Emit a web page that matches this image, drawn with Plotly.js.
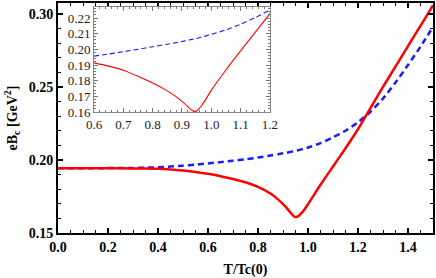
<!DOCTYPE html>
<html><head><meta charset="utf-8">
<script src="https://cdn.plot.ly/plotly-3.0.1.min.js"></script>
<style>html,body{margin:0;padding:0;background:#fff}</style>
</head><body><div id="plot" style="width:436px;height:278px"></div>
<script>
// main panel
var T = [0, 0.1, 0.2, 0.3, 0.35, 0.4, 0.45, 0.5, 0.55, 0.6, 0.65, 0.7, 0.75, 0.8, 0.85, 0.88, 0.91, 0.93, 0.945, 0.96, 0.98, 1.0, 1.05, 1.1, 1.15, 1.2, 1.25, 1.3, 1.35, 1.4, 1.45, 1.5];
var eBcSolid = [0.1943, 0.1943, 0.1943, 0.1942, 0.1941, 0.1939, 0.1935, 0.1928, 0.1918, 0.1905, 0.1889, 0.1870, 0.1847, 0.1815, 0.1770, 0.1730, 0.1680, 0.1640, 0.1612, 0.1614, 0.1648, 0.1697, 0.1830, 0.1955, 0.2080, 0.2210, 0.2355, 0.2500, 0.2639, 0.2779, 0.2918, 0.3057];
var eBcDashed = [0.1943, 0.1943, 0.1944, 0.1945, 0.1947, 0.1950, 0.1955, 0.1961, 0.1968, 0.1976, 0.1985, 0.1995, 0.2005, 0.2016, 0.2030, 0.2039, 0.2048, 0.2055, 0.2060, 0.2066, 0.2075, 0.2085, 0.2115, 0.2155, 0.2200, 0.2258, 0.2330, 0.2420, 0.2530, 0.2650, 0.2775, 0.2910];
// inset panel
var Tin = [0.6, 0.65, 0.7, 0.75, 0.8, 0.85, 0.88, 0.91, 0.93, 0.94, 0.95, 0.97, 1.0, 1.05, 1.1, 1.15, 1.2];
var eBcSolidIn = [0.1914, 0.1893, 0.1867, 0.1828, 0.1785, 0.1735, 0.1698, 0.1652, 0.1617, 0.1605, 0.1607, 0.1648, 0.1738, 0.1868, 0.1990, 0.2108, 0.2228];
var eBcDashedIn = [0.1957, 0.1970, 0.1985, 0.2000, 0.2017, 0.2033, 0.2043, 0.2054, 0.2062, 0.2066, 0.2070, 0.2080, 0.2095, 0.2125, 0.2160, 0.2203, 0.2250];

var serif = "Liberation Serif";
var traces = [
  {x: T, y: eBcDashed, mode: 'lines', line: {color: '#1a1aff', width: 2.5, dash: '6px,4px', shape: 'spline', smoothing: 0.6}, xaxis: 'x', yaxis: 'y', hoverinfo: 'skip'},
  {x: T, y: eBcSolid, mode: 'lines', line: {color: '#ff0000', width: 2.5, shape: 'spline', smoothing: 0.6}, xaxis: 'x', yaxis: 'y', hoverinfo: 'skip'},
  {x: Tin, y: eBcDashedIn, mode: 'lines', line: {color: '#1a1aff', width: 1.1, dash: '5px,3px', shape: 'spline', smoothing: 0.6}, xaxis: 'x2', yaxis: 'y2', hoverinfo: 'skip'},
  {x: Tin, y: eBcSolidIn, mode: 'lines', line: {color: '#ff0000', width: 1.1, shape: 'spline', smoothing: 0.6}, xaxis: 'x2', yaxis: 'y2', hoverinfo: 'skip'}
];
var layout = {
  width: 436, height: 278,
  margin: {l: 58, r: 3, t: 3, b: 45},
  showlegend: false,
  paper_bgcolor: '#fff', plot_bgcolor: '#fff',
  font: {family: serif, color: '#000'},
  xaxis: {
    domain: [0, 1], range: [0, 1.5], dtick: 0.2, tick0: 0, tickformat: '.1f',
    ticks: 'inside', ticklen: 5, tickwidth: 1.5, tickcolor: '#000',
    minor: {dtick: 0.05, ticks: 'inside', ticklen: 3, tickwidth: 1, tickcolor: '#000'},
    showline: true, linewidth: 2, linecolor: '#000', mirror: 'allticks',
    showgrid: false, zeroline: false,
    tickfont: {family: serif, size: 14, weight: 'bold'},
    title: {text: 'T/Tc(0)', font: {family: serif, size: 14, weight: 'bold'}, standoff: 10}
  },
  yaxis: {
    domain: [0, 1], range: [0.15, 0.3074], dtick: 0.05, tick0: 0.15, tickformat: '.2f',
    ticks: 'inside', ticklen: 5, tickwidth: 1.5, tickcolor: '#000',
    minor: {dtick: 0.01, ticks: 'inside', ticklen: 3, tickwidth: 1, tickcolor: '#000'},
    showline: true, linewidth: 2, linecolor: '#000', mirror: 'allticks',
    showgrid: false, zeroline: false,
    tickfont: {family: serif, size: 14, weight: 'bold'},
    title: {text: 'eB<sub>c</sub> [GeV<sup>2</sup>]', font: {family: serif, size: 14, weight: 'bold'}, standoff: 8}
  },
  xaxis2: {
    domain: [0.096, 0.565], anchor: 'y2', range: [0.6, 1.2], dtick: 0.1, tick0: 0.6, tickformat: '.1f',
    ticks: 'inside', ticklen: 4, tickwidth: 1, tickcolor: '#777',
    minor: {dtick: 0.02, ticks: 'inside', ticklen: 2, tickwidth: 1, tickcolor: '#777'},
    showline: true, linewidth: 1, linecolor: '#888', mirror: 'allticks',
    showgrid: false, zeroline: false,
    tickfont: {family: serif, size: 13, color: '#222'}
  },
  yaxis2: {
    domain: [0.526, 0.983], anchor: 'x2', range: [0.16, 0.2271], dtick: 0.01, tick0: 0.16, tickformat: '.2f',
    ticks: 'inside', ticklen: 4, tickwidth: 1, tickcolor: '#777',
    minor: {dtick: 0.002, ticks: 'inside', ticklen: 2, tickwidth: 1, tickcolor: '#777'},
    showline: true, linewidth: 1, linecolor: '#888', mirror: 'allticks',
    showgrid: false, zeroline: false,
    tickfont: {family: serif, size: 13, color: '#222'}
  }
};
Plotly.newPlot('plot', traces, layout, {staticPlot: true, displayModeBar: false});
</script></body></html>
